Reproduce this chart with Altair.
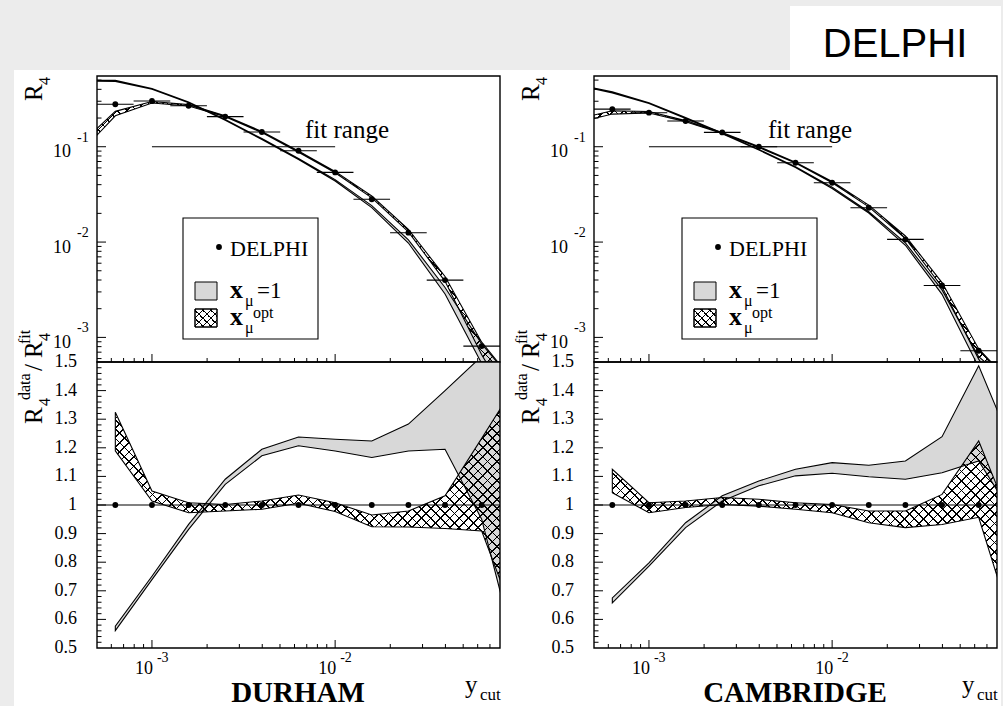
import math
import altair as alt
import pandas as pd

SERIF = "Liberation Serif"
SANS = "Liberation Sans"
PAGE_GRAY = "#ececec"
BAND_GRAY = "#d8d8d8"
W, H = 403, 286
GAP = 94

XDOM = [10 ** -3.3, 10 ** -1.1]
YTOP = [5.52e-4, 0.552]
YBOT = [0.5, 1.5]

# ---------------- data ----------------
ycut_centers = [6.31e-4, 1.0e-3, 1.585e-3, 2.512e-3, 3.981e-3, 6.31e-3,
                1.0e-2, 1.585e-2, 2.512e-2, 3.981e-2, 6.31e-2]
ycut_bin_lo = [5.01e-4, 7.94e-4, 1.259e-3, 1.995e-3, 3.162e-3, 5.012e-3,
               7.943e-3, 1.259e-2, 1.995e-2, 3.162e-2, 5.012e-2]
ycut_bin_hi = [7.94e-4, 1.259e-3, 1.995e-3, 3.162e-3, 5.012e-3, 7.943e-3,
               1.259e-2, 1.995e-2, 3.162e-2, 5.012e-2, 7.943e-2]
ycut_fit_curve = [5.01e-4, 6.31e-4, 1.0e-3, 1.585e-3, 2.512e-3, 3.981e-3, 6.31e-3,
                  1.0e-2, 1.585e-2, 2.512e-2, 3.981e-2, 6.31e-2, 0.1]
ycut_ratio_curve = [6.31e-4, 1.0e-3, 1.585e-3, 2.512e-3, 3.981e-3, 6.31e-3,
                    1.0e-2, 1.585e-2, 2.512e-2, 3.981e-2, 6.31e-2, 0.1]
ratio_points = [1, 1, 1, 1, 1, 1, 1, 1, 1, 1, 1]

fit_range_lo, fit_range_hi, fit_range_level = 1e-3, 1e-2, 0.1

# DURHAM
durham_r4 = [0.279, 0.302, 0.269, 0.207, 0.1426, 0.0908, 0.0538, 0.0281, 0.01254, 0.00399, 0.00081]
durham_fit1_lo = [0.487, 0.484, 0.402, 0.289, 0.190, 0.1193, 0.0733, 0.0437, 0.0230, 0.00977, 0.00285, 0.000533, 0.00015]
durham_fit1_hi = [0.497, 0.497, 0.409, 0.294, 0.193, 0.1217, 0.0752, 0.0452, 0.0241, 0.01055, 0.00334, 0.000853, 0.0003]
durham_fitopt_lo = [0.132, 0.211, 0.288, 0.267, 0.2066, 0.1406, 0.0877, 0.0534, 0.0291, 0.01281, 0.00387, 0.000657, 0.00015]
durham_fitopt_hi = [0.155, 0.235, 0.298, 0.2765, 0.2114, 0.1448, 0.0903, 0.0551, 0.0304, 0.01359, 0.00435, 0.000891, 0.0003]
durham_ratio1_lo = [0.561, 0.739, 0.915, 1.072, 1.172, 1.207, 1.189, 1.166, 1.189, 1.195, 0.95, 0.45]
durham_ratio1_hi = [0.576, 0.751, 0.932, 1.090, 1.195, 1.238, 1.230, 1.224, 1.283, 1.400, 1.52, 1.90]
durham_ratioopt_lo = [1.189, 1.014, 0.973, 0.979, 0.985, 1.006, 0.977, 0.924, 0.923, 0.918, 0.909, 0.57]
durham_ratioopt_hi = [1.324, 1.049, 1.008, 1.002, 1.014, 1.035, 1.008, 0.965, 0.979, 1.032, 1.233, 1.437]

# CAMBRIDGE
cambridge_r4 = [0.248, 0.2275, 0.186, 0.1413, 0.100, 0.0679, 0.0419, 0.0229, 0.01067, 0.0035, 0.000724]
cambridge_fit1_lo = [0.405, 0.367, 0.285, 0.198, 0.1369, 0.0923, 0.0604, 0.0365, 0.0201, 0.00925, 0.00283, 0.000487, 0.00015]
cambridge_fit1_hi = [0.412, 0.377, 0.289, 0.202, 0.1393, 0.0937, 0.0616, 0.0377, 0.0208, 0.00979, 0.00315, 0.000627, 0.0003]
cambridge_fitopt_lo = [0.198, 0.220, 0.226, 0.183, 0.1377, 0.0980, 0.0674, 0.0418, 0.0234, 0.0109, 0.00338, 0.000592, 0.00015]
cambridge_fitopt_hi = [0.215, 0.238, 0.234, 0.188, 0.1410, 0.1004, 0.0689, 0.0431, 0.0244, 0.01159, 0.00376, 0.000757, 0.0003]
cambridge_ratio1_lo = [0.658, 0.786, 0.921, 1.014, 1.067, 1.102, 1.111, 1.099, 1.090, 1.113, 1.154, 0.95]
cambridge_ratio1_hi = [0.675, 0.798, 0.938, 1.032, 1.084, 1.125, 1.148, 1.139, 1.154, 1.239, 1.487, 1.18]
cambridge_ratioopt_lo = [1.043, 0.973, 0.991, 1.002, 0.996, 0.985, 0.973, 0.938, 0.921, 0.932, 0.957, 0.547]
cambridge_ratioopt_hi = [1.125, 1.008, 1.014, 1.026, 1.020, 1.008, 1.002, 0.979, 0.979, 1.037, 1.224, 0.908]

# ticks and tick labels
ytop_major = [1e-3, 1e-2, 1e-1]
ytop_minor = [6e-4, 7e-4, 8e-4, 9e-4,
              2e-3, 3e-3, 4e-3, 5e-3, 6e-3, 7e-3, 8e-3, 9e-3,
              2e-2, 3e-2, 4e-2, 5e-2, 6e-2, 7e-2, 8e-2, 9e-2,
              0.2, 0.3, 0.4, 0.5]
ytop_label_vals = [1e-3, 1e-2, 1e-1]
ytop_label_exp = ["-3", "-2", "-1"]
ybot_major = [0.6, 0.7, 0.8, 0.9, 1.0, 1.1, 1.2, 1.3, 1.4]
ybot_minor = [round(0.5 + 0.02 * i, 2) for i in range(1, 50) if i % 5]
ybot_label_vals = [1.5, 1.4, 1.3, 1.2, 1.1, 1.0, 0.9, 0.8, 0.7, 0.6, 0.5]
ybot_labels = ["1.5", "1.4", "1.3", "1.2", "1.1", "1", "0.9", "0.8", "0.7", "0.6", "0.5"]
x_major = [1e-3, 1e-2]
x_minor = [6e-4, 7e-4, 8e-4, 9e-4,
           2e-3, 3e-3, 4e-3, 5e-3, 6e-3, 7e-3, 8e-3, 9e-3,
           2e-2, 3e-2, 4e-2, 5e-2, 6e-2, 7e-2]
x_label_vals = [1e-3, 1e-2]
x_label_exp = ["-3", "-2"]

# ---------------- helpers ----------------
xs = alt.Scale(type="log", domain=XDOM, nice=False)
yts = alt.Scale(type="log", domain=YTOP, nice=False)
ybs = alt.Scale(type="linear", domain=YBOT, nice=False, zero=False)
one = pd.DataFrame({"k": [0]})

LX0, LX1 = math.log10(XDOM[0]), math.log10(XDOM[1])
LT0, LT1 = math.log10(YTOP[0]), math.log10(YTOP[1])


def xpix(v):
    return W * (math.log10(v) - LX0) / (LX1 - LX0)


def ytop_pix(v):
    return H * (LT1 - math.log10(v)) / (LT1 - LT0)


def ybot_pix(v):
    return H * (YBOT[1] - v) / (YBOT[1] - YBOT[0])


def X(col):
    return alt.X(f"{col}:Q", scale=xs, axis=None)


def Y(col, sc):
    return alt.Y(f"{col}:Q", scale=sc, axis=None)


def hatch_pair(w, h, period=9.5, frac=0.18):
    r = h / w
    k = (1 + r) / (1 + r * r)
    n = max(2, int(round((w + h) / period)))
    clear = "rgba(0,0,0,0)"
    stops = []
    for i in range(n):
        a, b, c = i / n, (i + frac) / n, (i + 1) / n
        stops += [alt.GradientStop(color="black", offset=round(a, 5)),
                  alt.GradientStop(color="black", offset=round(b, 5)),
                  alt.GradientStop(color=clear, offset=round(b, 5)),
                  alt.GradientStop(color=clear, offset=round(c, 5))]
    g1 = alt.LinearGradient(gradient="linear", stops=stops, x1=0, y1=0, x2=k, y2=k * r)
    g2 = alt.LinearGradient(gradient="linear", stops=stops, x1=0, y1=1, x2=k, y2=1 - k * r)
    return g1, g2


def txt(s, x, y, size, angle=0, align="left", baseline="alphabetic", weight="normal", font=SERIF):
    return alt.Chart(one).mark_text(text=s, align=align, baseline=baseline, fontSize=size,
                                    angle=angle, font=font, fontWeight=weight,
                                    color="black").encode(x=alt.value(x), y=alt.value(y))


def box(x0, x1, y0, y1, fill, stroke=None, sw=1.0):
    kw = dict(fill=fill, opacity=1)
    if stroke:
        kw.update(stroke=stroke, strokeWidth=sw)
    else:
        kw.update(strokeWidth=0)
    return alt.Chart(one).mark_rect(**kw).encode(
        x=alt.value(x0), x2=alt.value(x1), y=alt.value(y0), y2=alt.value(y1))


def dot(x, y):
    return alt.Chart(one).mark_circle(size=34, color="black", opacity=1).encode(
        x=alt.value(x), y=alt.value(y))


def frame():
    return alt.Chart(one).mark_rect(fill="white", fillOpacity=0, stroke="black",
                                    strokeWidth=1.4).encode(
        x=alt.value(0), x2=alt.value(W), y=alt.value(0), y2=alt.value(H))


def bands(xv, g_lo, g_hi, h_lo, h_hi, sc, ypix):
    df = pd.DataFrame({"x": xv, "glo": g_lo, "ghi": g_hi, "hlo": h_lo, "hhi": h_hi})
    w = xpix(max(xv)) - xpix(min(xv))
    pys = [ypix(v) for v in h_lo + h_hi]
    h = max(pys) - min(pys)
    ga, gb = hatch_pair(w, h)
    enc_g = dict(x=X("x"), y=Y("glo", sc), y2=alt.Y2("ghi"))
    enc_h = dict(x=X("x"), y=Y("hlo", sc), y2=alt.Y2("hhi"))
    base = alt.Chart(df)
    return [
        base.mark_area(fill=BAND_GRAY, stroke="black", strokeWidth=1.1, opacity=1, clip=True).encode(**enc_g),
        base.mark_area(fill=ga, strokeWidth=0, opacity=1, clip=True).encode(**enc_h),
        base.mark_area(fill=gb, stroke="black", strokeWidth=1.1, opacity=1, clip=True).encode(**enc_h),
    ]


def yticks(vals, length, sc):
    df = pd.DataFrame({"v": vals})
    return alt.Chart(df).mark_rule(color="black", strokeWidth=1).encode(
        x=alt.value(0), x2=alt.value(length), y=Y("v", sc))


def xticks(vals, length):
    df = pd.DataFrame({"v": vals})
    return alt.Chart(df).mark_rule(color="black", strokeWidth=1).encode(
        x=X("v"), y=alt.value(H), y2=alt.value(H - length))


def legend_layers(bx):
    ha, hb = hatch_pair(22, 18, period=8.0)
    return [
        box(bx, bx + 135, 142, 263, "white", "black", 1.1),
        dot(bx + 36, 171),
        txt("DELPHI", bx + 47, 180, 22),
        box(bx + 12, bx + 34, 206, 224, BAND_GRAY, "black", 1.0),
        txt("x", bx + 47, 222, 26, weight="bold"),
        txt("μ", bx + 62, 230, 16),
        txt("=1", bx + 74, 222, 23),
        box(bx + 12, bx + 34, 233, 251, "white", "black", 1.0),
        box(bx + 12, bx + 34, 233, 251, ha),
        box(bx + 12, bx + 34, 233, 251, hb, "black", 1.0),
        txt("x", bx + 47, 249, 26, weight="bold"),
        txt("μ", bx + 62, 257, 16),
        txt("opt", bx + 70, 242, 16),
    ]


def top_panel(r4, f1lo, f1hi, folo, fohi, fit_x, leg_x, page=False):
    layers = []
    if page:
        layers += [
            box(-97, 906, -76, 630, PAGE_GRAY),
            box(-83, 904, -6, 630, "white"),
            box(693, 904, -70, -4, "white"),
            txt("DELPHI", 798, -19, 40, align="center", font=SANS),
        ]
    layers += bands(ycut_fit_curve, f1lo, f1hi, folo, fohi, yts, ytop_pix)
    fr = pd.DataFrame({"x0": [fit_range_lo], "x1": [fit_range_hi], "y": [fit_range_level]})
    layers.append(alt.Chart(fr).mark_rule(color="black", strokeWidth=1.1).encode(
        x=X("x0"), x2=alt.X2("x1"), y=Y("y", yts)))
    layers.append(txt("fit range", fit_x, 62, 25))
    ddf = pd.DataFrame({"x": ycut_centers, "lo": ycut_bin_lo, "hi": ycut_bin_hi, "r": r4})
    layers.append(alt.Chart(ddf).mark_rule(color="black", strokeWidth=1.1).encode(
        x=X("lo"), x2=alt.X2("hi"), y=Y("r", yts)))
    layers.append(alt.Chart(ddf).mark_circle(size=34, color="black", opacity=1).encode(
        x=X("x"), y=Y("r", yts)))
    layers += legend_layers(leg_x)
    layers += [yticks(ytop_major, 9, yts), yticks(ytop_minor, 4.5, yts),
               xticks(x_major, 8), xticks(x_minor, 4)]
    ylab = pd.DataFrame({"v": ytop_label_vals, "e": ytop_label_exp})
    layers.append(alt.Chart(ylab).mark_text(text="10", align="right", dy=5.5, fontSize=18,
                                            font=SERIF, color="black").encode(
        x=alt.value(-26), y=Y("v", yts)))
    layers.append(alt.Chart(ylab).mark_text(align="left", dy=-9, fontSize=14,
                                            font=SERIF, color="black").encode(
        x=alt.value(-20), y=Y("v", yts), text="e:N"))
    layers += [txt("R", -55, 25, 25, angle=270), txt("4", -47, 9, 16, angle=270)]
    layers.append(frame())
    return alt.layer(*layers).properties(width=W, height=H)


def bottom_panel(r1lo, r1hi, rolo, rohi, title):
    layers = bands(ycut_ratio_curve, r1lo, r1hi, rolo, rohi, ybs, ybot_pix)
    one_line = pd.DataFrame({"y": [1.0]})
    layers.append(alt.Chart(one_line).mark_rule(color="black", strokeWidth=1.1).encode(
        x=alt.value(0), x2=alt.value(W), y=Y("y", ybs)))
    pdf = pd.DataFrame({"x": ycut_centers, "r": ratio_points})
    layers.append(alt.Chart(pdf).mark_circle(size=34, color="black", opacity=1).encode(
        x=X("x"), y=Y("r", ybs)))
    layers += [yticks(ybot_major, 9, ybs), yticks(ybot_minor, 4.5, ybs),
               xticks(x_major, 8), xticks(x_minor, 4)]
    yl = pd.DataFrame({"v": ybot_label_vals, "t": ybot_labels})
    layers.append(alt.Chart(yl).mark_text(align="right", baseline="middle", fontSize=18,
                                          font=SERIF, color="black").encode(
        x=alt.value(-20), y=Y("v", ybs), text="t:N"))
    xl = pd.DataFrame({"v": x_label_vals, "e": x_label_exp})
    layers.append(alt.Chart(xl).mark_text(text="10", align="right", dx=1, fontSize=18,
                                          font=SERIF, color="black").encode(
        x=X("v"), y=alt.value(307)))
    layers.append(alt.Chart(xl).mark_text(align="left", dx=5, fontSize=14,
                                          font=SERIF, color="black").encode(
        x=X("v"), y=alt.value(296), text="e:N"))
    layers += [
        txt("R", -55, 62, 25, angle=270),
        txt("4", -47, 44, 16, angle=270),
        txt("data", -67, 38, 16, angle=270),
        txt("/", -55, 9, 25, angle=270),
        txt("R", -55, -4, 25, angle=270),
        txt("4", -47, -21, 16, angle=270),
        txt("fit", -67, -18, 16, angle=270),
        txt(title, 201, 340, 29, align="center", weight="bold"),
        txt("y", 368, 331, 25),
        txt("cut", 383, 338, 17),
    ]
    layers.append(frame())
    return alt.layer(*layers).properties(width=W, height=H)


lt = top_panel(durham_r4, durham_fit1_lo, durham_fit1_hi, durham_fitopt_lo, durham_fitopt_hi,
               208, 86, page=True)
lb = bottom_panel(durham_ratio1_lo, durham_ratio1_hi, durham_ratioopt_lo, durham_ratioopt_hi,
                  "DURHAM")
rt = top_panel(cambridge_r4, cambridge_fit1_lo, cambridge_fit1_hi, cambridge_fitopt_lo,
               cambridge_fitopt_hi, 174, 88)
rb = bottom_panel(cambridge_ratio1_lo, cambridge_ratio1_hi, cambridge_ratioopt_lo,
                  cambridge_ratioopt_hi, "CAMBRIDGE")

chart = alt.concat(lt, rt, lb, rb, columns=2, bounds="flush",
                   spacing=alt.RowColnumber(row=0, column=GAP)).resolve_scale(
    x="independent", y="independent").properties(padding=0, background=PAGE_GRAY).configure_view(
    strokeWidth=0)

chart.save("out.html", embed_options={"renderer": "svg", "actions": False})
